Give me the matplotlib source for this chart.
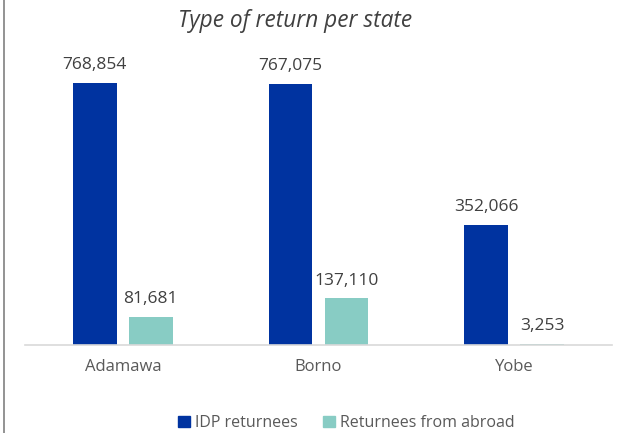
import matplotlib
matplotlib.use("Agg")
import matplotlib.pyplot as plt
import numpy as np
from matplotlib.lines import Line2D
from matplotlib.patches import Patch

states = ["Adamawa", "Borno", "Yobe"]
idp = [768854, 767075, 352066]
abroad = [81681, 137110, 3253]
series_names = ["IDP returnees", "Returnees from abroad"]
colors = ["#0033A0", "#88CCC4"]
title = "Type of return per state"

plt.rcParams['font.family'] = ['Open Sans', 'DejaVu Sans']
W, H = 622, 433
fig = plt.figure(figsize=(W/100, H/100), dpi=100)
ax = fig.add_axes([25/W, (H-345)/H, 587/W, 307/H])

x = np.arange(len(states))
bw = 0.224
off = 0.143
b1 = ax.bar(x - off, idp, bw, color=colors[0])
b2 = ax.bar(x + off, abroad, bw, color=colors[1])
for bars, vals in ((b1, idp), (b2, abroad)):
    for r, v in zip(bars, vals):
        ax.annotate(f"{v:,}", (r.get_x() + r.get_width()/2, r.get_height()),
                    xytext=(0, 7), textcoords="offset points",
                    ha="center", va="bottom", fontsize=12.5, color="#404040")

ax.set_xlim(-0.5, 2.5)
ax.set_ylim(0, 768854 * 307 / 262)
ax.set_xticks(x)
ax.set_xticklabels(states, fontsize=12, color="#595959")
ax.tick_params(axis="x", length=0, pad=10)
ax.set_yticks([])
for s in ["top", "right", "left"]:
    ax.spines[s].set_visible(False)
ax.spines["bottom"].set_color("#D9D9D9")
ax.spines["bottom"].set_linewidth(1.2)

fig.text(295/W, 1 - 21/H, title, ha="center", va="center", fontsize=16.3,
         style="italic", color="#404040")

handles = [Patch(color=c) for c in colors]
fig.legend(handles, series_names, loc="center", bbox_to_anchor=(346/W, 1 - 423/H),
           ncol=2, frameon=False, fontsize=11.5, handlelength=0.75, handleheight=0.75,
           handletextpad=0.3, columnspacing=1.6, labelcolor="#595959")

fig.add_artist(Line2D([3.5/W, 3.5/W], [0, 1], color="#808080", lw=1.2,
                      transform=fig.transFigure))

fig.savefig("out.png", dpi=100)
